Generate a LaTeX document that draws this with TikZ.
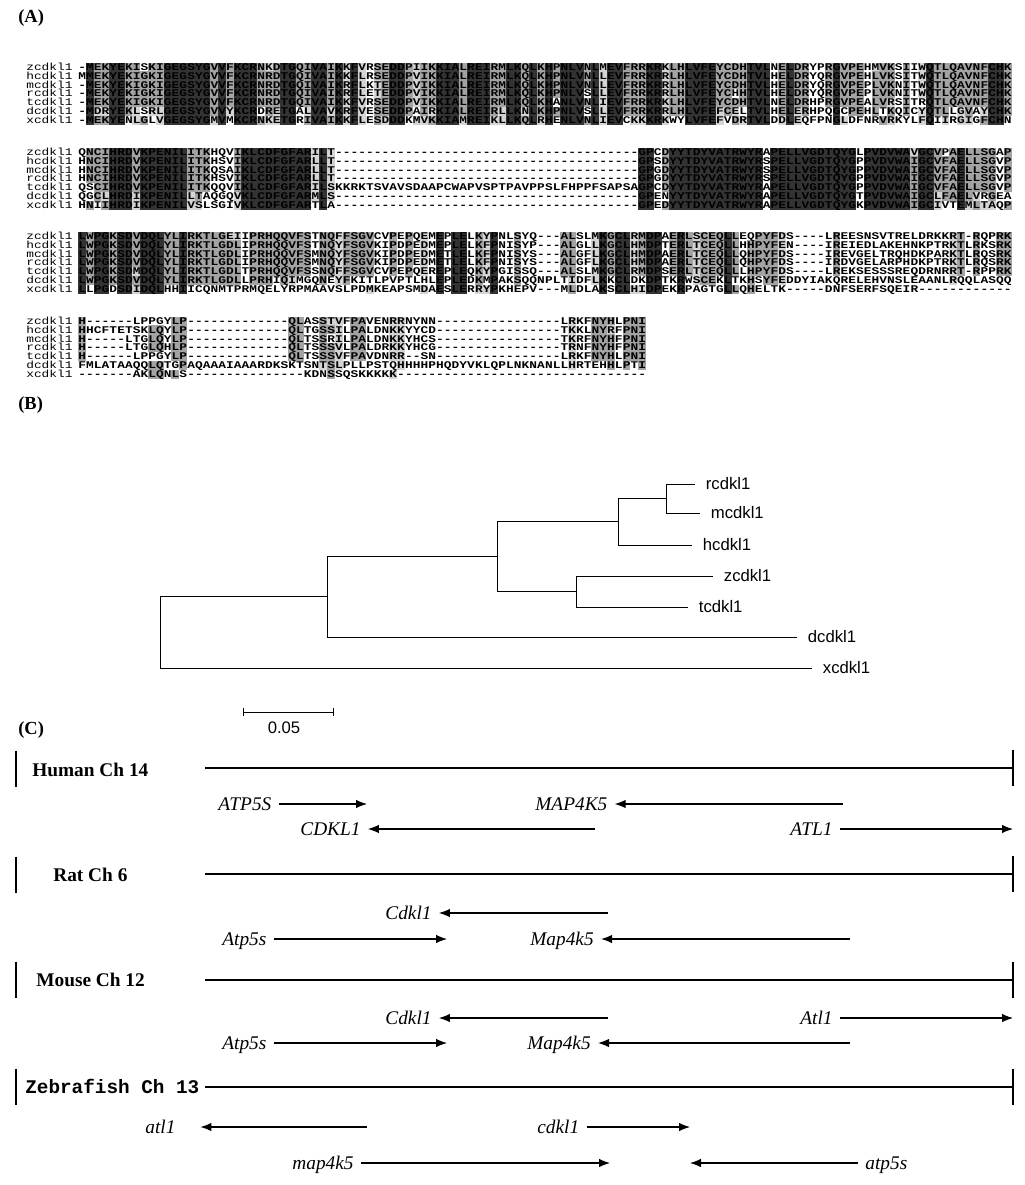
\documentclass[tikz,border=0pt]{standalone}
\usepackage{fontspec}
\usepackage{graphicx}
\setmainfont{Liberation Serif}
\newfontfamily\alnfont{Liberation Mono}
\newfontfamily\treefont{Liberation Sans}
\usetikzlibrary{arrows.meta}

% alignment grid, picture units are pixels
\newcommand\alnx{78}
\newcommand\alnnx{26}
\newcommand\alncw{7.78}
\newcommand\alnrh{8.9}
\newlength\alncwl
\setlength\alncwl{0.1556cm}

\tikzset{
  alnfull/.style={fill=black!80},
  alnhigh/.style={fill=black!36},
  alnsim/.style={fill=black!17},
  alnname/.style={anchor=west, inner sep=0pt, text height=3.7pt, text depth=0pt,
    font=\alnfont\fontsize{7.3}{8}\selectfont},
  alnseq/.style={alnname, font=\alnfont\bfseries\fontsize{7.3}{8}\selectfont},
  panel/.style={anchor=west, inner sep=0pt, font=\bfseries\fontsize{10.5}{12}\selectfont},
  chrlabel/.style={anchor=west, inner sep=0pt, font=\bfseries\fontsize{11}{13}\selectfont},
  chrline/.style={line width=1.2pt},
  genelabel/.style={anchor=west, inner xsep=4pt, inner ysep=0pt, text height=7.5pt,
    text depth=0pt, font=\itshape\fontsize{11}{13}\selectfont},
  genearrow/.style={-{Latex[length=2.2mm,width=1.7mm]}, line width=0.6pt},
  leaf/.style={anchor=west, inner xsep=6pt, inner ysep=0pt, font=\treefont\fontsize{9.5}{11}\selectfont},
  treeline/.style={line width=0.5pt}
}

\newcommand\alnchar[1]{\hbox to\alncwl{\hss#1\hss}}
\newcommand\alncell[4]{\fill[#4] ({\alnx+(#2-1)*\alncw},{#1+(#3-1.5)*\alnrh}) rectangle ++(\alncw,\alnrh);}
\newcommand\alnrow[5]{%
  \node[alnname] (#1n) at (\alnnx,{#2+(#3-1)*\alnrh}) {\scalebox{1}[0.8]{#4}};
  \node[alnseq] (#1) at (\alnx,{#2+(#3-1)*\alnrh}) {\scalebox{1}[0.8]{#5}};}

\ExplSyntaxOn
\cs_new:Npn \gp #1 { \prg_replicate:nn {#1} { - } }
\int_new:N \l_aln_id_int
\int_new:N \l_aln_sim_int
\int_step_inline:nn { 7 }
  {
    \tl_new:c { l_aln_row_#1_tl }
    \tl_new:c { l_aln_c_#1_tl }
    \tl_new:c { l_aln_g_#1_tl }
  }
\cs_generate_variant:Nn \tl_set:Nn { ce }
% residue groups for the grey shading
\cs_new:Npn \aln_group:n #1
  {
    \str_case:nnF {#1}
      {
        { I } { 1 } { L } { 1 } { V } { 1 } { M } { 1 }
        { F } { 2 } { Y } { 2 } { W } { 2 }
        { K } { 3 } { R } { 3 } { H } { 3 }
        { D } { 4 } { E } { 4 }
        { N } { 5 } { Q } { 5 }
        { S } { 6 } { T } { 6 }
        { A } { 7 } { G } { 7 }
        { P } { 8 } { C } { 9 }
      }
      { 0 }
  }
\cs_new_protected:Npn \aln_cell:nnn #1#2#3
  {
    \tl_if_empty:cF { l_aln_c_#3_tl }
      {
        \str_if_eq:eeF { \tl_use:c { l_aln_c_#3_tl } } { - }
          {
            \int_zero:N \l_aln_id_int
            \int_zero:N \l_aln_sim_int
            \int_step_inline:nn { 7 }
              {
                \str_if_eq:eeT { \tl_use:c { l_aln_c_#3_tl } } { \tl_use:c { l_aln_c_##1_tl } }
                  { \int_incr:N \l_aln_id_int }
                \str_if_eq:eeT { \tl_use:c { l_aln_g_#3_tl } } { \tl_use:c { l_aln_g_##1_tl } }
                  { \int_incr:N \l_aln_sim_int }
              }
            \str_if_eq:eeT { \tl_use:c { l_aln_g_#3_tl } } { 0 }
              { \int_set_eq:NN \l_aln_sim_int \l_aln_id_int }
            \int_compare:nNnTF { \l_aln_id_int } = { 7 }
              { \alncell {#1} {#2} {#3} { alnfull } }
              {
                \int_compare:nNnTF { \l_aln_id_int } > { 4 }
                  { \alncell {#1} {#2} {#3} { alnhigh } }
                  {
                    \int_compare:nNnT { \l_aln_sim_int } > { 5 }
                      { \alncell {#1} {#2} {#3} { alnsim } }
                  }
              }
          }
      }
  }
\cs_new_protected:Npn \aln_column:nn #1#2
  {
    \int_step_inline:nn { 7 }
      {
        \tl_set:ce { l_aln_c_##1_tl }
          { \exp_args:Nc \str_item:Nn { l_aln_row_##1_tl } {#2} }
        \tl_set:ce { l_aln_g_##1_tl }
          { \exp_args:Nv \aln_group:n { l_aln_c_##1_tl } }
      }
    \int_step_inline:nn { 7 } { \aln_cell:nnn {#1} {#2} {##1} }
  }
\cs_new_protected:Npn \aln_block:nnnnnnnnn #1#2#3#4#5#6#7#8#9
  {
    \tl_set:ce { l_aln_row_1_tl } {#3}
    \tl_set:ce { l_aln_row_2_tl } {#4}
    \tl_set:ce { l_aln_row_3_tl } {#5}
    \tl_set:ce { l_aln_row_4_tl } {#6}
    \tl_set:ce { l_aln_row_5_tl } {#7}
    \tl_set:ce { l_aln_row_6_tl } {#8}
    \tl_set:ce { l_aln_row_7_tl } {#9}
    \int_step_inline:nn { \tl_count:c { l_aln_row_1_tl } }
      { \aln_column:nn {#2} {##1} }
    \alnrow { #1z } {#2} {1} { zcdkl1 } { \tl_map_function:cN { l_aln_row_1_tl } \alnchar }
    \alnrow { #1h } {#2} {2} { hcdkl1 } { \tl_map_function:cN { l_aln_row_2_tl } \alnchar }
    \alnrow { #1m } {#2} {3} { mcdkl1 } { \tl_map_function:cN { l_aln_row_3_tl } \alnchar }
    \alnrow { #1r } {#2} {4} { rcdkl1 } { \tl_map_function:cN { l_aln_row_4_tl } \alnchar }
    \alnrow { #1t } {#2} {5} { tcdkl1 } { \tl_map_function:cN { l_aln_row_5_tl } \alnchar }
    \alnrow { #1d } {#2} {6} { dcdkl1 } { \tl_map_function:cN { l_aln_row_6_tl } \alnchar }
    \alnrow { #1x } {#2} {7} { xcdkl1 } { \tl_map_function:cN { l_aln_row_7_tl } \alnchar }
  }
\NewDocumentCommand \alnblock { m m m m m m m m m }
  { \aln_block:nnnnnnnnn {#1} {#2} {#3} {#4} {#5} {#6} {#7} {#8} {#9} }
\ExplSyntaxOff

\begin{document}
\begin{tikzpicture}[x=0.02cm, y=-0.02cm]
  \useasboundingbox (0,0) rectangle (1024,1185);

  % (A) alignment
  \node[panel] (pa) at (18,18) {(A)};
  \alnblock{b1}{67}
    {-MEKYEKISKIGEGSYGVVFKCRNKDTGQIVAIKKFVRSEDDPIIKKIALREIRMLKQLKHPNLVNLMEVFRRKRKLHLVFEYCDHTVLNELDRYPRGVPEHMVKSIIWQTLQAVNFCHK}
    {MMEKYEKIGKIGEGSYGVVFKCRNRDTGQIVAIKKFLRSEDDPVIKKIALREIRMLKQLKHPNLVNLLEVFRRKRRLHLVFEYCDHTVLHELDRYQRGVPEHLVKSITWQTLQAVNFCHK}
    {-MEKYEKIGKIGEGSYGVVFKCRNRDTGQIVAIKRFLKTEDDPVIKKIALREIRMLKQLKHPNLVNLLEVFRRKRRLHLVFEYCDHTVLHELDRYQRGVPEPLVKNITWQTLQAVNFCHK}
    {-MEKYEKIGKIGEGSYGVVFKCRNRDTGQIVAIKRFLETEDDPVIKKIALREIRMLKQLKHPNLVSLLEVFRRKRRLHLVFEYCHHTVLHELDRYQRGVPEPLVKNITWQTLQAVNFCHK}
    {-MEKYEKIGKIGEGSYGVVFKCRNRDTGQIVAIKKFVRSEDDPVIKKIALREIRMLKQLKHANLVNLIEVFRRKRKLHLVFEYCDHTVLNELDRHPRGVPEALVRSITRQTLQAVNFCHK}
    {-MDRYEKLSRLGEGSYGVVYKCRDRETGALVAVKRFVESEDDPAIRKIALREIRLLKNLKHPNLVSLLEVFRRKRRLHLVFEFCELTVLHELERHPQGCPEHLTKQICYQTLLGVAYCHK}
    {-MEKYENLGLVGEGSYGMVMKCRNKETGRIVAIKKFLESDDDKMVKKIAMREIKLLKQLRHENLVNLIEVCKKKRKWYLVFEFVDRTVLDDLEQFPNGLDFNRVRKYLFQIIRGIGFCHN}
  \alnblock{b2}{152}
    {QNCIHRDVKPENILITKHQVIKLCDFGFARILT\gp{39}GPCDYYTDYVATRWYRAPELLVGDTQYGLPVDVWAVGCVPAELLSGAP}
    {HNCIHRDVKPENILITKHSVIKLCDFGFARLLT\gp{39}GPSDYYTDYVATRWYRSPELLVGDTQYGPPVDVWAIGCVFAELLSGVP}
    {HNCIHRDVKPENILITKQSAIKLCDFGFARLLT\gp{39}GPGDYYTDYVATRWYRSPELLVGDTQYGPPVDVWAIGCVFAELLSGVP}
    {HNCIHRDVKPENILITKHSVIKLCDFGFARLLT\gp{39}GPGDYYTDYVATRWYRSPELLVGDTQYGPPVDVWAIGCVFAELLSGVP}
    {QSCIHRDVKPENILITKQQVIKLCDFGFARILSKKRKTSVAVSDAAPCWAPVSPTPAVPPSLFHPPFSAPSAGPCDYYTDYVATRWYRAPELLVGDTQYGPPVDVWAIGCVFAELLSGVP}
    {QGCLHRDIKPENILLTAQGQVKLCDFGFARMLS\gp{39}GPENYYTDYVATRWYRAPELLVGDTQYGTPVDVWAIGCLFAELVRGEA}
    {HNIIHRDIKPENILVSLSGIVKLCDFGFARTLA\gp{39}GPEDYYTDYVATRWYRAPELLVGDTQYGKPVDVWAIGCIVTEMLTAQP}
  \alnblock{b3}{236}
    {LWPGKSDVDQLYLIRKTLGEIIPRHQQVFSTNQFFSGVCVPEPQEMEPLELKYPNLSYQ\gp{3}ALSLMKGCLRMDPAERLSCEQLLEQPYFDS\gp{4}LREESNSVTRELDRKKRT-RQPRK}
    {LWPGKSDVDQLYLIRKTLGDLIPRHQQVFSTNQYFSGVKIPDPEDMEPLELKFPNISYP\gp{3}ALGLLKGCLHMDPTERLTCEQLLHHPYFEN\gp{4}IREIEDLAKEHNKPTRKTLRKSRK}
    {LWPGKSDVDQLYLIRKTLGDLIPRHQQVFSMNQYFSGVKIPDPEDMETLELKFPNISYS\gp{3}ALGFLKGCLHMDPAERLTCEQLLQHPYFDS\gp{4}IREVGELTRQHDKPARKTLRQSRK}
    {LWPGKSDVDQLYLIRKTLGDLIPRHQQVFSMNQYFSGVKIPDPEDMETLELKFPNISYS\gp{3}ALGFLKGCLHMDPAERLTCEQLLQHPYFDS\gp{4}IRDVGELARPHDKPTRKTLRQSRK}
    {LWPGKSDMDQLYLIRKTLGDLTPRHQQVFSSNQFFSGVCVPEPQEREPLEQKYPGISSQ\gp{3}ALSLMKGCLRMDPSERLTCEQLLLHPYFDS\gp{4}LREKSESSSREQDRNRRT-RPPRK}
    {LWPGKSDVDQLYLIRKTLGDLLPRHIQIMGQNEYFKITLPVPTLHLEPLEDKMPAKSQQNPLTIDFLKKCLDKDPTKRWSCEKLTKHSYFEDDYIAKQRELEHVNSLEAANLRQQLASQQ}
    {LLPGDSDIDQLHHIICQNMTPRMQELYRPMAAVSLPDMKEAPSMDAESLERRYPKHEPV\gp{3}MLDLAKSCLHIDPEKRPAGTGLLQHELTK\gp{5}DNFSERFSQEIR\gp{12}}
  \alnblock{b4}{321}
    {H\gp{6}LPPGYLP\gp{13}QLASSTVFPAVENRRNYNN\gp{16}LRKFNYHLPNI}
    {HHCFTETSKLQYLP\gp{13}QLTGSSILPALDNKKYYCD\gp{16}TKKLNYRFPNI}
    {H\gp{5}LTGLQYLP\gp{13}QLTSSRILPALDNKKYHCS\gp{16}TKRFNYHFPNI}
    {H\gp{5}LTGLQHLP\gp{13}QLTSSSVLPALDRKKYHCG\gp{16}TRNFNYHFPNI}
    {H\gp{6}LPPGYLP\gp{13}QLTSSSVFPAVDNRR--SN\gp{16}LRKFNYHLPNI}
    {FMLATAAQQLQTGPAQAAAIAAARDKSKTSNTSLPLLPSTQHHHHPHQDYVKLQPLNKNANLLHRTEHHLPTI}
    {\gp{7}AKLQNLS\gp{15}KDNSSQSKKKKK\gp{32}}

  % (B) tree
  \node[panel] (pb) at (18,405) {(B)};
  \coordinate (root) at (160,632);
  \coordinate (n1) at (327,596);
  \coordinate (n2) at (497,556);
  \coordinate (n3) at (618,521);
  \coordinate (n4) at (576,591);
  \coordinate (n5) at (666,498);
  \node[leaf] (rc) at (695,484) {rcdkl1};
  \node[leaf] (mc) at (700,513) {mcdkl1};
  \node[leaf] (hc) at (692,545) {hcdkl1};
  \node[leaf] (zc) at (713,576) {zcdkl1};
  \node[leaf] (tc) at (688,607) {tcdkl1};
  \node[leaf] (dc) at (797,637) {dcdkl1};
  \node[leaf] (xc) at (812,668) {xcdkl1};
  \draw[treeline] (root) |- (n1);
  \draw[treeline] (root) |- (xc.west);
  \draw[treeline] (n1) |- (n2);
  \draw[treeline] (n1) |- (dc.west);
  \draw[treeline] (n2) |- (n3);
  \draw[treeline] (n2) |- (n4);
  \draw[treeline] (n3) |- (n5);
  \draw[treeline] (n3) |- (hc.west);
  \draw[treeline] (n5) |- (rc.west);
  \draw[treeline] (n5) |- (mc.west);
  \draw[treeline] (n4) |- (zc.west);
  \draw[treeline] (n4) |- (tc.west);
  % scale bar
  \coordinate (sba) at (243,712);
  \coordinate (sbb) at (333,712);
  \draw[treeline] (sba) -- (sbb);
  \draw[treeline] ([yshift=2.5pt]sba) -- ([yshift=-2.5pt]sba);
  \draw[treeline] ([yshift=2.5pt]sbb) -- ([yshift=-2.5pt]sbb);
  \node[leaf, anchor=north, inner xsep=0pt] (sbl) at (284,721) {0.05};

  % (C) synteny
  \node[panel] (pcc) at (18,730) {(C)};
  % human
  \coordinate (humb) at (16,769);
  \coordinate (huml) at (205,768);
  \coordinate (humr) at (1013,768);
  \draw[chrline] ([yshift=10.5pt]humb) -- ([yshift=-10.5pt]humb);
  \draw[chrline] (huml) -- (humr);
  \draw[chrline] ([yshift=10.5pt]humr) -- ([yshift=-10.5pt]humr);
  \node[chrlabel] (hum) at (32,770) {Human Ch 14};
  \node[genelabel] (hatp) at (211,804) {ATP5S};
  \coordinate (hatpe) at (367,804);
  \draw[genearrow] (hatp) -- (hatpe);
  \node[genelabel] (hmap) at (528,804) {MAP4K5};
  \coordinate (hmapt) at (843,804);
  \draw[genearrow] (hmapt) -- (hmap);
  \node[genelabel] (hcdk) at (293,829) {CDKL1};
  \coordinate (hcdkt) at (595,829);
  \draw[genearrow] (hcdkt) -- (hcdk);
  \node[genelabel] (hatl) at (783,829) {ATL1};
  \coordinate (hatle) at (1013,829);
  \draw[genearrow] (hatl) -- (hatle);
  % rat
  \coordinate (ratb) at (16,875);
  \coordinate (ratl) at (205,874);
  \coordinate (ratr) at (1013,874);
  \draw[chrline] ([yshift=10.5pt]ratb) -- ([yshift=-10.5pt]ratb);
  \draw[chrline] (ratl) -- (ratr);
  \draw[chrline] ([yshift=10.5pt]ratr) -- ([yshift=-10.5pt]ratr);
  \node[chrlabel] (rat) at (53,875) {Rat Ch 6};
  \node[genelabel] (rcdk) at (378,913) {Cdkl1};
  \coordinate (rcdkt) at (608,913);
  \draw[genearrow] (rcdkt) -- (rcdk);
  \node[genelabel] (ratp) at (215,939) {Atp5s};
  \coordinate (ratpe) at (447,939);
  \draw[genearrow] (ratp) -- (ratpe);
  \node[genelabel] (rmap) at (523,939) {Map4k5};
  \coordinate (rmapt) at (850,939);
  \draw[genearrow] (rmapt) -- (rmap);
  % mouse
  \coordinate (moub) at (16,980);
  \coordinate (moul) at (205,980);
  \coordinate (mour) at (1013,980);
  \draw[chrline] ([yshift=10.5pt]moub) -- ([yshift=-10.5pt]moub);
  \draw[chrline] (moul) -- (mour);
  \draw[chrline] ([yshift=10.5pt]mour) -- ([yshift=-10.5pt]mour);
  \node[chrlabel] (mou) at (36,980) {Mouse Ch 12};
  \node[genelabel] (mcdk) at (378,1018) {Cdkl1};
  \coordinate (mcdkt) at (608,1018);
  \draw[genearrow] (mcdkt) -- (mcdk);
  \node[genelabel] (matl) at (793,1018) {Atl1};
  \coordinate (matle) at (1013,1018);
  \draw[genearrow] (matl) -- (matle);
  \node[genelabel] (matp) at (215,1043) {Atp5s};
  \coordinate (matpe) at (447,1043);
  \draw[genearrow] (matp) -- (matpe);
  \node[genelabel] (mmap) at (520,1043) {Map4k5};
  \coordinate (mmapt) at (850,1043);
  \draw[genearrow] (mmapt) -- (mmap);
  % zebrafish
  \coordinate (zebb) at (16,1087);
  \coordinate (zebl) at (205,1087);
  \coordinate (zebr) at (1013,1087);
  \draw[chrline] ([yshift=10.5pt]zebb) -- ([yshift=-10.5pt]zebb);
  \draw[chrline] (zebl) -- (zebr);
  \draw[chrline] ([yshift=10.5pt]zebr) -- ([yshift=-10.5pt]zebr);
  \node[chrlabel, font=\alnfont\bfseries\fontsize{11}{13}\selectfont] (zeb) at (25,1086) {Zebrafish Ch 13};
  \node[genelabel] (zatl) at (138,1127) {atl1};
  \coordinate (zatlt) at (367,1127);
  \draw[genearrow] (zatlt) -- ([xshift=10pt]zatl.east);
  \node[genelabel] (zcdk) at (530,1127) {cdkl1};
  \coordinate (zcdke) at (690,1127);
  \draw[genearrow] (zcdk) -- (zcdke);
  \node[genelabel] (zmap) at (285,1163) {map4k5};
  \coordinate (zmape) at (610,1163);
  \draw[genearrow] (zmap) -- (zmape);
  \node[genelabel] (zatp) at (858,1163) {atp5s};
  \coordinate (zatpe) at (690,1163);
  \draw[genearrow] (zatp) -- (zatpe);
\end{tikzpicture}
\end{document}
